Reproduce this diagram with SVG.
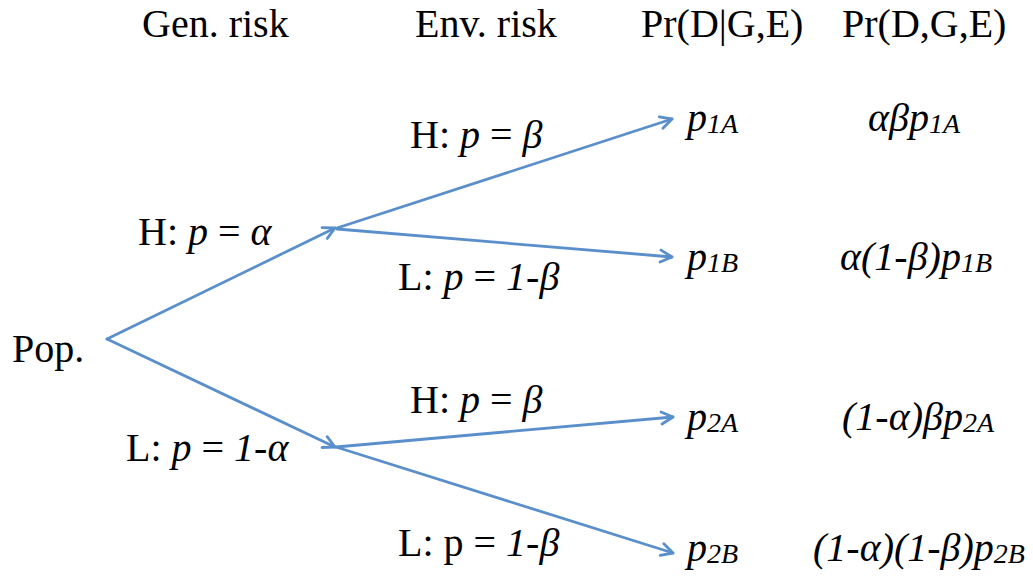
<svg xmlns="http://www.w3.org/2000/svg" width="1033" height="578" viewBox="0 0 1033 578">
<style>
text{font-family:"Liberation Serif","Times New Roman",serif;font-size:40px;fill:#000}
.i{font-style:italic}
.s{font-style:italic;font-size:28px}
.c{stroke:#5a8fcb;stroke-width:2.8;fill:none;stroke-linecap:round}
</style>
<defs>
<marker id="ah" viewBox="0 0 16 16" refX="14" refY="8" markerWidth="16" markerHeight="16" markerUnits="userSpaceOnUse" orient="auto">
<path d="M2.5,2 L14,8 L2.5,14" fill="none" stroke="#5a8fcb" stroke-width="2.8" stroke-linecap="round" stroke-linejoin="round"/>
</marker>
</defs>
<rect width="1033" height="578" fill="#fff"/>
<g id="headers">
<text x="142" y="37">Gen. risk</text>
<text x="415" y="37">Env. risk</text>
<text x="641" y="37">Pr(D|G,E)</text>
<text x="842" y="37">Pr(D,G,E)</text>
</g>
<g id="connectors">
<line class="c" x1="107" y1="339" x2="335" y2="228" marker-end="url(#ah)"/>
<line class="c" x1="107" y1="339" x2="335" y2="447" marker-end="url(#ah)"/>
<line class="c" x1="337" y1="228" x2="672" y2="119" marker-end="url(#ah)"/>
<line class="c" x1="337" y1="229" x2="672" y2="257" marker-end="url(#ah)"/>
<line class="c" x1="336" y1="447" x2="673" y2="417" marker-end="url(#ah)"/>
<line class="c" x1="336" y1="447" x2="673" y2="553" marker-end="url(#ah)"/>
</g>
<g id="pop"><text x="12" y="362">Pop.</text></g>
<g id="labels">
<text x="138" y="245">H: <tspan class="i">p</tspan> = <tspan class="i">α</tspan></text>
<text x="126" y="461">L: <tspan class="i">p</tspan> = <tspan class="i">1-α</tspan></text>
<text x="410" y="148">H: <tspan class="i">p</tspan> = <tspan class="i">β</tspan></text>
<text x="398" y="290">L: <tspan class="i">p</tspan> = <tspan class="i">1-β</tspan></text>
<text x="410" y="413">H: <tspan class="i">p</tspan> = <tspan class="i">β</tspan></text>
<text x="398" y="556">L: p = <tspan class="i">1-β</tspan></text>
</g>
<g id="leaf-1A">
<text x="687" y="131" class="i">p<tspan class="s" dy="2">1A</tspan></text>
<text x="868" y="131" class="i">αβp<tspan class="s" dy="2">1A</tspan></text>
</g>
<g id="leaf-1B">
<text x="687" y="270" class="i">p<tspan class="s" dy="2">1B</tspan></text>
<text x="840" y="270" class="i">α(1-β)p<tspan class="s" dy="2">1B</tspan></text>
</g>
<g id="leaf-2A">
<text x="687" y="430" class="i">p<tspan class="s" dy="2">2A</tspan></text>
<text x="842" y="430" class="i">(1-α)βp<tspan class="s" dy="2">2A</tspan></text>
</g>
<g id="leaf-2B">
<text x="687" y="561" class="i">p<tspan class="s" dy="2">2B</tspan></text>
<text x="813" y="561" class="i">(1-α)(1-β)p<tspan class="s" dy="2">2B</tspan></text>
</g>
</svg>
